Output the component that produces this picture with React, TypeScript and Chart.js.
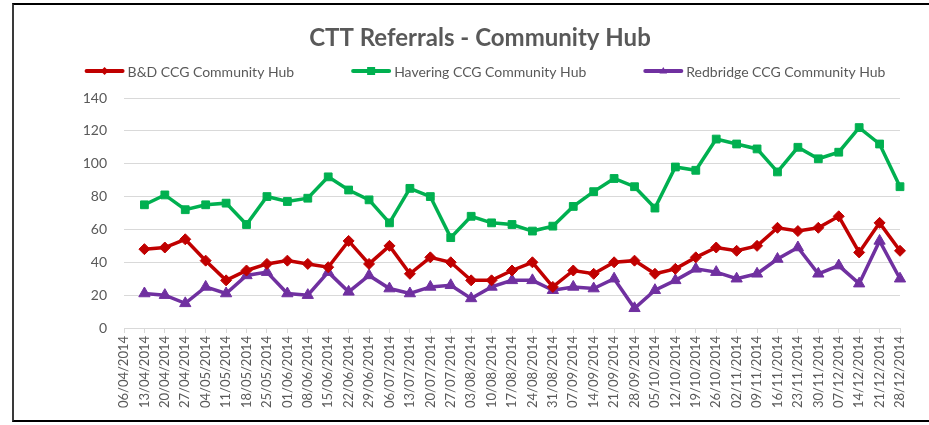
import React, { useEffect, useRef } from 'react';
import { Chart, registerables } from 'chart.js';

Chart.register(...registerables);

const chartTitle = 'CTT Referrals - Community Hub';

const weekLabels = [
  '06/04/2014', '13/04/2014', '20/04/2014', '27/04/2014', '04/05/2014', '11/05/2014',
  '18/05/2014', '25/05/2014', '01/06/2014', '08/06/2014', '15/06/2014', '22/06/2014',
  '29/06/2014', '06/07/2014', '13/07/2014', '20/07/2014', '27/07/2014', '03/08/2014',
  '10/08/2014', '17/08/2014', '24/08/2014', '31/08/2014', '07/09/2014', '14/09/2014',
  '21/09/2014', '28/09/2014', '05/10/2014', '12/10/2014', '19/10/2014', '26/10/2014',
  '02/11/2014', '09/11/2014', '16/11/2014', '23/11/2014', '30/11/2014', '07/12/2014',
  '14/12/2014', '21/12/2014', '28/12/2014',
];

const seriesNames = [
  'B&D CCG Community Hub',
  'Havering CCG Community Hub',
  'Redbridge CCG Community Hub',
];

const bdValues = [
  null, 48, 49, 54, 41, 29, 35, 39, 41, 39, 37, 53, 39, 50, 33, 43, 40, 29, 29, 35,
  40, 25, 35, 33, 40, 41, 33, 36, 43, 49, 47, 50, 61, 59, 61, 68, 46, 64, 47,
];

const haveringValues = [
  null, 75, 81, 72, 75, 76, 63, 80, 77, 79, 92, 84, 78, 64, 85, 80, 55, 68, 64, 63,
  59, 62, 74, 83, 91, 86, 73, 98, 96, 115, 112, 109, 95, 110, 103, 107, 122, 112, 86,
];

const redbridgeValues = [
  null, 21, 20, 15, 25, 21, 32, 34, 21, 20, 34, 22, 32, 24, 21, 25, 26, 18, 25, 29,
  29, 23, 25, 24, 30, 12, 23, 29, 36, 34, 30, 33, 42, 49, 33, 38, 27, 53, 30,
];

const yMin = 0;
const yMax = 140;
const yStep = 20;

const seriesColors = ['#C00000', '#00B050', '#7030A0'];
const seriesMarkers = ['rectRot', 'rect', 'triangle'];
const textColor = '#595959';
const gridColor = '#D9D9D9';
const fontFamily = 'Lato, Calibri, Carlito, "Open Sans", sans-serif';

function drawMarker(ctx: CanvasRenderingContext2D, style: string, x: number, y: number, r: number) {
  ctx.beginPath();
  if (style === 'rectRot') {
    ctx.moveTo(x, y - r);
    ctx.lineTo(x + r, y);
    ctx.lineTo(x, y + r);
    ctx.lineTo(x - r, y);
  } else if (style === 'rect') {
    ctx.rect(x - r, y - r, 2 * r, 2 * r);
  } else {
    ctx.moveTo(x, y - r);
    ctx.lineTo(x + r * 0.95, y + r * 0.6);
    ctx.lineTo(x - r * 0.95, y + r * 0.6);
  }
  ctx.closePath();
  ctx.fill();
}

const excelLegend = {
  id: 'excelLegend',
  afterDraw(chart: any) {
    const ctx: CanvasRenderingContext2D = chart.ctx;
    ctx.save();
    ctx.font = `14px ${fontFamily}`;
    const lineLen = 40;
    const textGap = 3;
    const itemGap = 57;
    const items = chart.data.datasets.map((ds: any) => ({
      ds,
      w: ctx.measureText(ds.label).width,
    }));
    const total =
      items.reduce((s: number, it: any) => s + lineLen + textGap + it.w, 0) +
      itemGap * (items.length - 1);
    let x = 485 - total / 2;
    const y = 71;
    items.forEach((it: any) => {
      const color = it.ds.borderColor;
      ctx.strokeStyle = color;
      ctx.fillStyle = color;
      ctx.lineWidth = 4;
      ctx.lineCap = 'round';
      ctx.beginPath();
      ctx.moveTo(x + 2, y);
      ctx.lineTo(x + lineLen - 2, y);
      ctx.stroke();
      drawMarker(ctx, it.ds.pointStyle, x + lineLen / 2, y, 4);
      ctx.fillStyle = textColor;
      ctx.textAlign = 'left';
      ctx.textBaseline = 'middle';
      ctx.fillText(it.ds.label, x + lineLen + textGap, y + 1);
      x += lineLen + textGap + it.w + itemGap;
    });
    ctx.restore();
  },
};

export default function App() {
  const canvasRef = useRef<HTMLCanvasElement | null>(null);

  useEffect(() => {
    if (!canvasRef.current) return;
    const valueSets = [bdValues, haveringValues, redbridgeValues];
    const chart = new Chart(canvasRef.current, {
      type: 'line',
      data: {
        labels: weekLabels,
        datasets: valueSets.map((vals, i) => ({
          label: seriesNames[i],
          data: vals,
          borderColor: seriesColors[i],
          backgroundColor: seriesColors[i],
          borderWidth: 3.5,
          pointStyle: seriesMarkers[i] as any,
          pointRadius: i === 2 ? 6.5 : 5.5,
          pointBorderWidth: 1,
          pointBackgroundColor: seriesColors[i],
          pointBorderColor: seriesColors[i],
          tension: 0,
          fill: false,
        })),
      },
      options: {
        responsive: false,
        animation: false,
        devicePixelRatio: 1,
        layout: { padding: { left: 60, right: 29, top: 4, bottom: 0 } },
        plugins: {
          legend: { display: false },
          tooltip: { enabled: false },
          title: {
            display: true,
            text: chartTitle,
            color: textColor,
            font: { family: fontFamily, size: 24, weight: 'bold' },
            padding: { top: 19.6, bottom: 45.6 },
          },
        },
        scales: {
          x: {
            type: 'category',
            offset: false,
            grid: {
              display: true,
              drawOnChartArea: false,
              drawTicks: true,
              tickLength: 5,
              color: gridColor,
            },
            border: { display: true, color: gridColor, width: 1 },
            ticks: {
              autoSkip: false,
              maxRotation: 90,
              minRotation: 90,
              padding: 3,
              color: textColor,
              font: { family: fontFamily, size: 13 },
            },
            afterFit: (scale: any) => {
              scale.height = 97;
            },
          },
          y: {
            min: yMin,
            max: yMax,
            grid: { color: gridColor, drawTicks: false, lineWidth: 1 },
            border: { display: false },
            ticks: {
              stepSize: yStep,
              padding: 17,
              color: textColor,
              font: { family: fontFamily, size: 14 },
            },
            afterFit: (scale: any) => {
              scale.width = 64;
            },
          },
        },
      },
      plugins: [excelLegend],
    });
    return () => chart.destroy();
  }, []);

  return (
    <div
      style={{
        position: 'fixed',
        left: 0,
        top: 0,
        width: 929,
        height: 425,
        overflow: 'hidden',
        background: '#ffffff',
      }}
    >
      <div
        style={{
          position: 'absolute',
          left: 12,
          top: 3,
          width: 1000,
          height: 419,
          boxSizing: 'border-box',
          borderTop: '2px solid #000',
          borderLeft: '2px solid #3a3a3a',
          borderBottom: '2px solid #000',
        }}
      />
      <canvas
        ref={canvasRef}
        width={929}
        height={425}
        style={{ position: 'absolute', left: 0, top: 0, width: 929, height: 425 }}
      />
    </div>
  );
}
